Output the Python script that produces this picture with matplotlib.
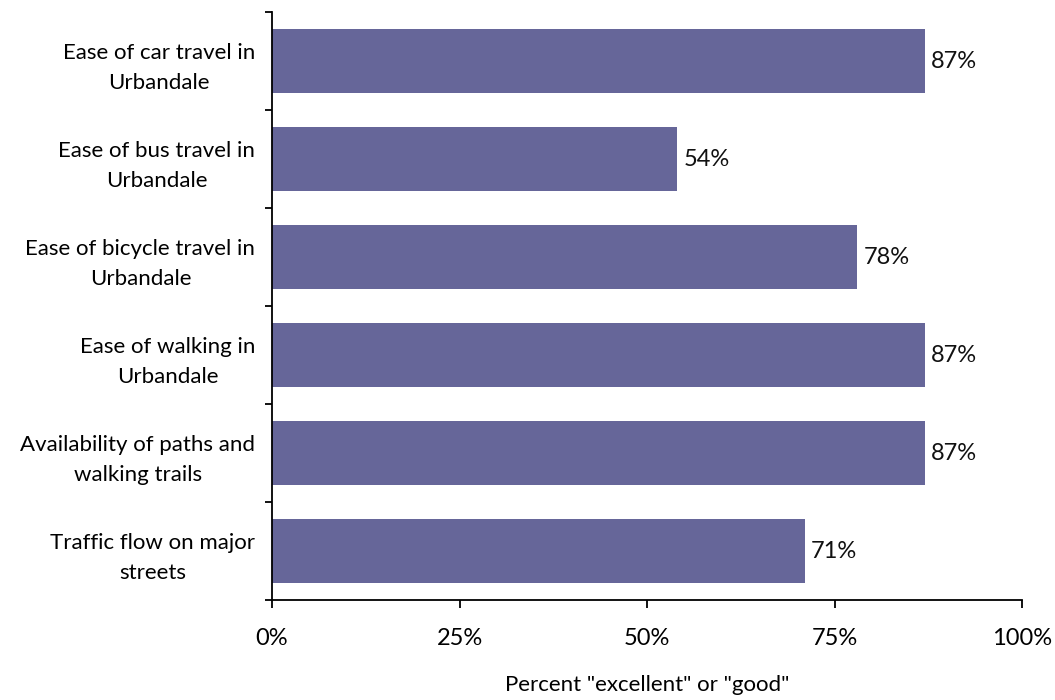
import matplotlib
matplotlib.use("Agg")
from matplotlib import pyplot as plt
import numpy as np

categories = ["Ease of car travel in\nUrbandale",
              "Ease of bus travel in\nUrbandale",
              "Ease of bicycle travel in\nUrbandale",
              "Ease of walking in\nUrbandale",
              "Availability of paths and\nwalking trails",
              "Traffic flow on major\nstreets"]
values = [87, 54, 78, 87, 87, 71]
xticks = [0, 25, 50, 75, 100]

plt.rcParams['font.family'] = ['Lato', 'DejaVu Sans']
plt.rcParams['font.size'] = 16

fig = plt.figure(figsize=(10.55, 7.0), dpi=100)
ax = fig.add_axes([272/1055, 100/700, 750/1055, 588/700])

y = np.arange(len(categories))
ax.barh(y, values, height=0.65, color="#666699")
for yi, v in zip(y, values):
    ax.text(v + 0.9, yi, "%d%%" % v, va="center", ha="left", fontsize=17, color="#111111")

ax.set_ylim(len(categories) - 0.5, -0.5)
ax.set_xlim(0, 100)
ax.set_yticks(y)
ax.set_yticklabels(categories, ha="right", multialignment="center", linespacing=1.6)
ax.tick_params(axis="y", length=0, pad=12)
ax.set_yticks(np.arange(-0.5, len(categories), 1.0), minor=True)
ax.tick_params(axis="y", which="minor", length=5, width=1.3, direction="out")
ax.set_xticks(xticks)
ax.set_xticklabels(["%d%%" % t for t in xticks], fontsize=17)
ax.tick_params(axis="x", length=6, width=1.3, direction="out", pad=14)
ax.set_xlabel('Percent "excellent" or "good"', labelpad=19)

for s in ["top", "right"]:
    ax.spines[s].set_visible(False)
for s in ["left", "bottom"]:
    ax.spines[s].set_linewidth(1.3)

fig.savefig("out.png", dpi=100)
